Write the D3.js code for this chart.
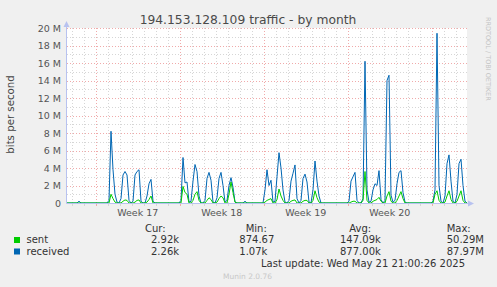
<!DOCTYPE html>
<html>
<head>
<meta charset="utf-8">
<script src="https://cdn.jsdelivr.net/npm/d3@7"></script>
<style>
body { margin: 0; background: #f0f0f0; }
svg { display: block; }
text { font-family: "DejaVu Sans", sans-serif; }
.mono { font-family: "DejaVu Sans Mono", monospace; white-space: pre; }
</style>
</head>
<body>
<svg id="chart" width="497" height="287"></svg>
<script>
// samples every 4 hours, Mbit/s, starting Fri 18 Apr 2025 14:30 UTC
const received = [
  0, 0, 0, 0, 0, 0, 0.2, 0, 0, 0,
  0, 0, 0, 0, 0, 0, 0, 0, 0, 0,
  0, 0.3, 8.2, 3.8, 1.0, 0.1, 0, 0.5, 3.2, 3.6,
  3.2, 0.3, 0, 0.2, 3.2, 3.6, 3.8, 0.2, 0, 0,
  0.8, 2.2, 2.7, 0.2, 0, 0, 0, 0, 0, 0,
  0, 0, 0, 0, 0, 0, 0, 0.3, 5.2, 2.3,
  2.4, 0.1, 0.2, 2.5, 4.4, 3.6, 0.8, 0, 0, 0.3,
  2.8, 3.5, 2.6, 0.1, 0, 0.6, 2.8, 3.5, 2.0, 0.1,
  0.3, 2.0, 2.9, 1.8, 0.1, 0, 0, 0, 0, 0.2,
  0, 0, 0, 0, 0, 0, 0, 0, 0, 1.5,
  3.8, 2.0, 2.6, 0.1, 0.2, 3.0, 5.75, 4.0, 1.5, 0.1,
  0, 0.3, 2.5, 3.4, 4.35, 0.5, 0, 0.3, 2.8, 3.3,
  2.4, 0.1, 0, 1.5, 4.8, 2.5, 0.8, 0, 0, 0,
  0, 0, 0, 0, 0, 0, 0, 0, 0, 0,
  0, 0.2, 2.5, 3.0, 3.5, 0.3, 0, 0, 0.5, 16.2,
  1.5, 0.1, 0.2, 1.5, 2.2, 2.0, 3.7, 0.4, 0, 0.3,
  14.0, 14.6, 0.9, 0.1, 0.3, 2.2, 3.5, 3.7, 1.2, 0.1,
  0, 0, 0, 0, 0, 0, 0, 0, 0, 0,
  0, 0, 0, 0.2, 1.5, 19.4, 2.0, 0.2, 0, 0.8,
  4.5, 5.5, 2.5, 0.2, 0, 1.0, 4.5, 5.0, 2.0, 0.2,
  0
];
const sent = [
  0, 0, 0, 0, 0, 0, 0, 0, 0, 0,
  0, 0, 0, 0, 0, 0, 0, 0, 0, 0,
  0, 0, 1.0, 0.5, 0.1, 0, 0, 0, 0.2, 0.35,
  0.3, 0, 0, 0, 0.1, 0.3, 0.35, 0, 0, 0,
  0.1, 0.4, 0.8, 0, 0, 0, 0, 0, 0, 0,
  0, 0, 0, 0, 0, 0, 0, 0, 1.9, 1.2,
  1.0, 0, 0, 0.3, 1.0, 1.3, 0.3, 0, 0, 0,
  0.3, 0.6, 0.4, 0, 0, 0.1, 0.5, 0.8, 0.6, 0,
  0, 1.0, 2.4, 1.2, 0.1, 0, 0, 0, 0, 0,
  0, 0, 0, 0, 0, 0, 0, 0, 0, 0.1,
  0.3, 0.4, 0.5, 0, 0, 0.4, 1.6, 0.8, 0.3, 0,
  0, 0, 0.2, 0.3, 0.35, 0, 0, 0, 0.2, 0.3,
  0.3, 0, 0, 0.3, 1.4, 0.6, 0.1, 0, 0, 0,
  0, 0, 0, 0, 0, 0, 0, 0, 0, 0,
  0, 0, 0.1, 0.2, 0.2, 0, 0, 0, 0.3, 3.6,
  0.3, 0, 0, 0.2, 0.3, 0.4, 0.65, 0.2, 0, 0,
  0.8, 1.3, 0.2, 0, 0, 0.3, 0.8, 1.3, 0.5, 0,
  0, 0, 0, 0, 0, 0, 0, 0, 0, 0,
  0, 0, 0, 0, 1.0, 1.4, 0.3, 0, 0, 0.1,
  0.8, 1.4, 0.4, 0, 0, 0.2, 0.8, 1.4, 0.3, 0,
  0
];
const yTicks = [0, 2, 4, 6, 8, 10, 12, 14, 16, 18, 20];
const seriesNames = ["sent", "received"];
const seriesColors = ["#00cc00", "#0066b3"];
const curValues = ["2.92k", "2.26k"];
const minValues = ["874.67", "  1.07k"];
const avgValues = ["147.09k", "877.00k"];
const maxValues = ["50.29M", "87.97M"];

const svg = d3.select('#chart');
const pLeft = 67, pRight = 467, pTop = 28, pBottom = 203;
const t0 = Date.UTC(2025, 3, 18, 14, 30), step = 4 * 3600e3;
const x = d3.scaleUtc()
    .domain([new Date(t0), new Date(t0 + 200 * step)])
    .range([pLeft, pRight]);
const y = d3.scaleLinear().domain([0, 20]).range([pBottom, pTop]);
const px = v => Math.round(v) + 0.5;
const minorColor = '#d6d6d6', majorColor = '#f0aaaa';

svg.append('rect')
    .attr('x', pLeft).attr('y', pTop)
    .attr('width', pRight - pLeft).attr('height', pBottom - pTop)
    .attr('fill', '#fff');

let grid = svg.append('g').attr('stroke-width', 1).attr('stroke-dasharray', '1,2');

// minor grid
let days = d3.utcDay.range(x.domain()[0], x.domain()[1]).filter(d => d.getUTCDay() !== 1);
grid.selectAll('.vmin').data(days).enter().append('line')
    .attr('x1', d => px(x(d))).attr('x2', d => px(x(d)))
    .attr('y1', pTop).attr('y2', pBottom)
    .attr('stroke', minorColor);
let halves = d3.range(1, 20, 2);
grid.selectAll('.hmin').data(halves).enter().append('line')
    .attr('x1', pLeft).attr('x2', pRight)
    .attr('y1', d => px(y(d))).attr('y2', d => px(y(d)))
    .attr('stroke', minorColor);

// major grid
let mondays = d3.utcMonday.range(x.domain()[0], x.domain()[1]);
grid.selectAll('.vmaj').data(mondays).enter().append('line')
    .attr('x1', d => px(x(d))).attr('x2', d => px(x(d)))
    .attr('y1', pTop).attr('y2', pBottom)
    .attr('stroke', majorColor);
grid.selectAll('.hmaj').data(yTicks.slice(1)).enter().append('line')
    .attr('x1', pLeft).attr('x2', pRight)
    .attr('y1', d => px(y(d))).attr('y2', d => px(y(d)))
    .attr('stroke', majorColor);

// tick marks under the time axis
svg.selectAll('.xtick').data(days.concat(mondays)).enter().append('line')
    .attr('x1', d => px(x(d))).attr('x2', d => px(x(d)))
    .attr('y1', pBottom + 1).attr('y2', pBottom + 3)
    .attr('stroke', d => d.getUTCDay() === 1 ? majorColor : minorColor);

// y tick labels
svg.selectAll('.ylab').data(yTicks).enter().append('text')
    .attr('x', 61).attr('y', d => y(d) + 3.5)
    .attr('text-anchor', 'end')
    .attr('font-size', '9.5px').attr('fill', '#555')
    .text(d => d === 0 ? '0' : d + ' M');

// week labels, centred on each week (only those that fit)
let weekMid = mondays.map(d => d3.utcHour.offset(d, 84)).filter(d => x(d) < pRight);
svg.selectAll('.xlab').data(weekMid).enter().append('text')
    .attr('x', d => x(d))
    .attr('y', 216)
    .attr('text-anchor', 'middle')
    .attr('font-size', '9.5px').attr('fill', '#555')
    .text(d => d3.utcFormat('Week %V')(d));

// series
const line = d3.line()
    .x((d, i) => x(new Date(t0 + i * step)))
    .y(d => y(d));
svg.append('path').datum(received)
    .attr('d', line).attr('fill', 'none')
    .attr('stroke', seriesColors[1]).attr('stroke-width', 1);
svg.append('path').datum(sent)
    .attr('d', line).attr('fill', 'none')
    .attr('stroke', seriesColors[0]).attr('stroke-width', 1);

// axes with arrows
const axisColor = '#b8c2f0';
svg.append('line').attr('x1', pLeft - 0.5).attr('x2', pLeft - 0.5)
    .attr('y1', pBottom + 0.5).attr('y2', 24).attr('stroke', axisColor);
svg.append('path').attr('d', `M${pLeft - 3.5},27L${pLeft - 0.5},21L${pLeft + 2.5},27Z`).attr('fill', axisColor);
svg.append('line').attr('x1', pLeft - 0.5).attr('x2', 470)
    .attr('y1', pBottom + 0.5).attr('y2', pBottom + 0.5).attr('stroke', axisColor);
svg.append('path').attr('d', `M468,${pBottom - 2.5}L474,${pBottom + 0.5}L468,${pBottom + 3.5}Z`).attr('fill', axisColor);

// titles
svg.append('text').attr('x', 248).attr('y', 24)
    .attr('text-anchor', 'middle').attr('font-size', '12.3px').attr('fill', '#4a4a4a')
    .text('194.153.128.109 traffic - by month');
svg.append('text').attr('transform', 'translate(14,114.5) rotate(-90)')
    .attr('text-anchor', 'middle').attr('font-size', '10.2px').attr('fill', '#444')
    .text('bits per second');
svg.append('text').attr('transform', 'translate(486,17) rotate(90)')
    .attr('font-size', '6.5px').attr('fill', '#c4c4c4')
    .text('RRDTOOL / TOBI OETIKER');

// legend
let legend = svg.append('g').attr('class', 'mono').attr('font-size', '10px').attr('fill', '#333');
legend.append('text').attr('x', 145).attr('y', 231.5).text('Cur:');
legend.append('text').attr('x', 245.7).attr('y', 231.5).text('Min:');
legend.append('text').attr('x', 349.3).attr('y', 231.5).text('Avg:');
legend.append('text').attr('x', 446.7).attr('y', 231.5).text('Max:');

seriesNames.forEach((name, i) => {
    let yy = 243 + i * 11.5;
    svg.append('rect').attr('x', 14).attr('y', yy - 6).attr('width', 6).attr('height', 6)
        .attr('fill', seriesColors[i]);
    legend.append('text').attr('x', 26.5).attr('y', yy).text(name);
    legend.append('text').attr('x', 151).attr('y', yy).text(curValues[i]);
    legend.append('text').attr('x', 239.3).attr('y', yy).text(minValues[i]);
    legend.append('text').attr('x', 340).attr('y', yy).text(avgValues[i]);
    legend.append('text').attr('x', 446.7).attr('y', yy).text(maxValues[i]);
});
legend.append('text').attr('x', 261).attr('y', 266.5).text('Last update: Wed May 21 21:00:26 2025');

svg.append('text').attr('x', 247.5).attr('y', 279)
    .attr('text-anchor', 'middle').attr('font-size', '7.5px').attr('fill', '#c8c8c8')
    .text('Munin 2.0.76');
</script>
</body>
</html>
